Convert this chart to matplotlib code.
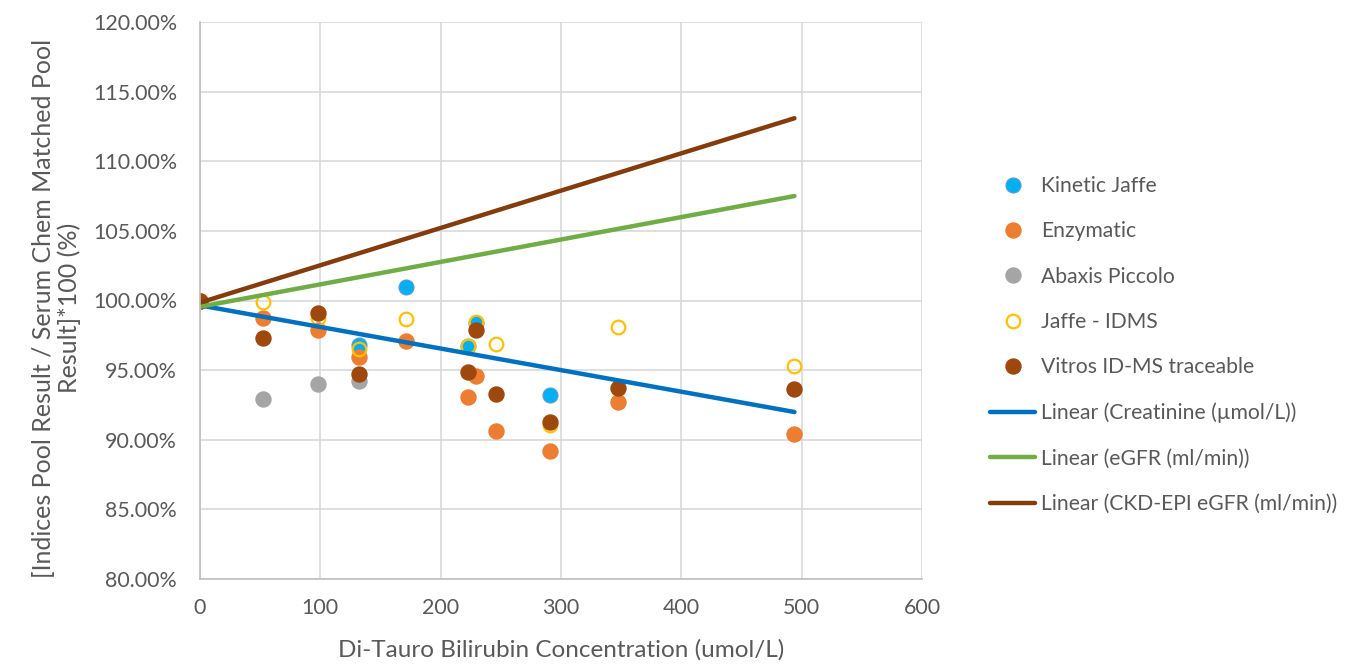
import numpy as np
import matplotlib
matplotlib.use("Agg")
import matplotlib.pyplot as plt
from matplotlib.ticker import FuncFormatter

# bilirubin concentration (umol/L) and % of matched pool result
kj_x = [0, 132, 171, 223, 229, 291]
kj_y = [100.0, 96.80, 100.97, 96.73, 98.41, 93.24]

enz_x = [0, 52, 98, 132, 171, 223, 229, 246, 291, 347, 494]
enz_y = [100.0, 98.72, 97.88, 95.94, 97.09, 93.09, 94.60, 90.63, 89.22, 92.73, 90.41]

abx_x = [0, 52, 98, 132]
abx_y = [100.0, 92.90, 94.00, 94.22]

idms_x = [0, 52, 98, 132, 171, 223, 229, 246, 291, 347, 494]
idms_y = [100.0, 99.87, 98.72, 96.52, 98.67, 96.73, 98.48, 96.88, 91.06, 98.07, 95.32]

vit_x = [0, 52, 98, 132, 223, 229, 246, 291, 347, 494]
vit_y = [100.0, 97.33, 99.12, 94.72, 94.89, 97.88, 93.26, 91.25, 93.69, 93.64]

# linear trendlines (intercept, slope) over 0..494
trend_names = ["Linear (Creatinine (\u00b5mol/L))", "Linear (eGFR (ml/min))",
               "Linear (CKD-EPI eGFR (ml/min))"]
trend_icpt = [99.65, 99.55, 99.85]
trend_slope = [-0.0155, 0.0161, 0.0268]
trend_colors = ["#0070C0", "#70AD47", "#843C0C"]
trend_x = [0, 494]

txt = "#595959"
plt.rcParams["font.family"] = ["Lato", "DejaVu Sans"]

fig = plt.figure(figsize=(13.45, 6.71), dpi=100)
ax = fig.add_axes([200/1345, 1-579/671, 722/1345, 557/671])

ms = 10.8
ax.plot(kj_x, kj_y, "o", ms=ms, mfc="#00B0F0", mec="#5B9BD5", mew=0.8, label="Kinetic Jaffe")
ax.plot(enz_x, enz_y, "o", ms=ms, mfc="#ED7D31", mec="#ED7D31", label="Enzymatic")
ax.plot(abx_x, abx_y, "o", ms=ms, mfc="#A5A5A5", mec="#A5A5A5", label="Abaxis Piccolo")
ax.plot(idms_x, idms_y, "o", ms=ms - 1, mfc="none", mec="#FFC000", mew=1.6, label="Jaffe - IDMS")
ax.plot(vit_x, vit_y, "o", ms=ms, mfc="#9E480E", mec="#9E480E", label="Vitros ID-MS traceable")

for name, b, m, c in zip(trend_names, trend_icpt, trend_slope, trend_colors):
    xs = np.array(trend_x)
    ax.plot(xs, b + m * xs, color=c, lw=3.2, label=name, solid_capstyle="round")

ax.set_xlim(0, 600)
ax.set_ylim(80, 120)
ax.set_xticks(range(0, 601, 100))
ax.set_yticks(range(80, 121, 5))
ax.yaxis.set_major_formatter(FuncFormatter(lambda v, p: f"{v:.2f}%"))
ax.grid(True, color="#D9D9D9", lw=1.2)
ax.set_axisbelow(True)
for s in ["top", "right"]:
    ax.spines[s].set_visible(False)
for s in ["left", "bottom"]:
    ax.spines[s].set_color("#BFBFBF")
    ax.spines[s].set_linewidth(1.2)
ax.tick_params(length=0, colors=txt, labelsize=15.4)
ax.tick_params(axis="x", pad=14)
ax.tick_params(axis="y", pad=16.5)

fig.text(561/1345, 1-650/671, "Di-Tauro Bilirubin Concentration (umol/L)", color=txt,
         fontsize=17.5, ha="center", va="center")
fig.text(56.5/1345, 1-308/671, "[Indices Pool Result / Serum Chem Matched Pool\nResult]*100 (%)",
         color=txt, fontsize=18, rotation=90, ha="center", va="center",
         multialignment="center", linespacing=1.08)

handles, labels = ax.get_legend_handles_labels()
leg = fig.legend(handles, labels, loc="center left", bbox_to_anchor=(971/1345, 1-345/671),
                 frameon=False, fontsize=15.2, labelspacing=1.2, handlelength=2.15,
                 handletextpad=0.25, labelcolor=txt)

fig.savefig("out.png", dpi=100)
